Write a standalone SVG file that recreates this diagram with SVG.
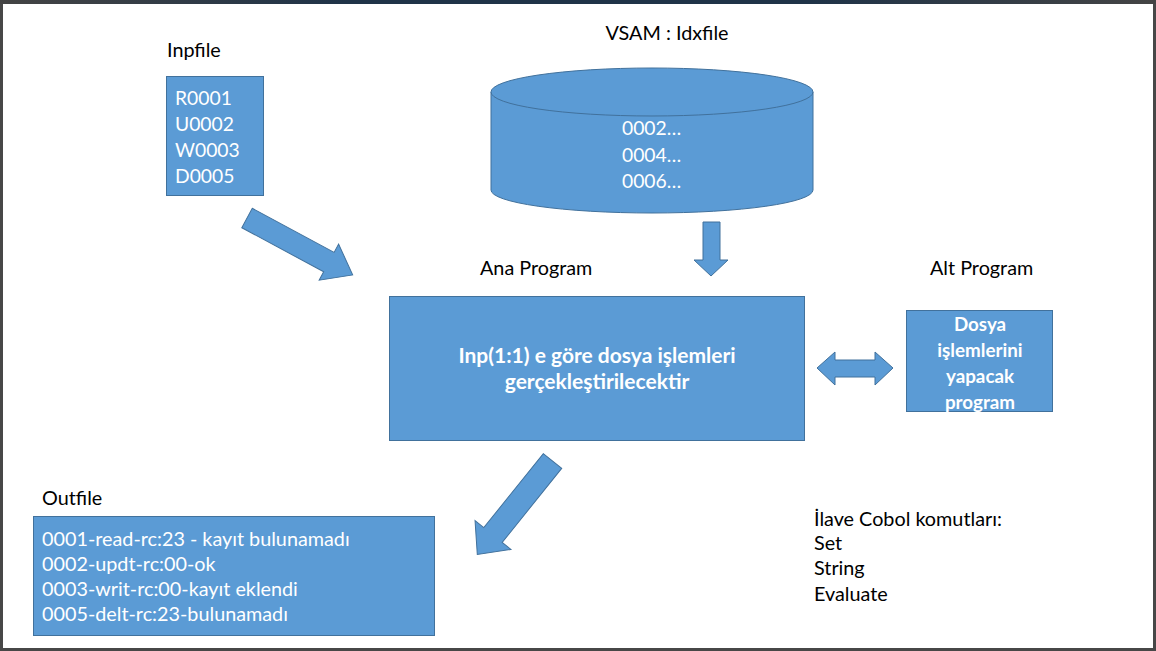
<svg xmlns="http://www.w3.org/2000/svg" width="1156" height="651" viewBox="0 0 1156 651">
<style>
.lbl{font-family:Lato,"Open Sans","Liberation Sans",sans-serif;font-size:19.8px;fill:#000}
.wt{font-family:Lato,"Open Sans","Liberation Sans",sans-serif;font-size:19.3px;fill:#fff}
.out{font-size:19.8px}
.b{font-weight:bold}
.main{font-size:21px}
.alt{font-size:18.8px}
.shape{fill:#5B9BD5;stroke:#41719C;stroke-width:1}
</style>
<defs>
<linearGradient id="topbar" x1="0" x2="1" y1="0" y2="0">
<stop offset="0" stop-color="#444"/><stop offset="0.3" stop-color="#1f3348"/><stop offset="0.7" stop-color="#1f3348"/><stop offset="1" stop-color="#444"/>
</linearGradient>
</defs>
<rect x="0" y="0" width="1156" height="651" fill="#474747"/>
<rect x="0" y="0" width="1156" height="4" fill="url(#topbar)"/>
<rect x="3" y="4" width="1150" height="644" fill="#fff"/>

<g id="inpfile">
<text class="lbl" x="167" y="57">Inpfile</text>
<rect class="shape" x="166.5" y="76.5" width="97" height="119"/>
<text class="wt" x="175" y="105">R0001</text>
<text class="wt" x="175" y="131">U0002</text>
<text class="wt" x="175" y="157">W0003</text>
<text class="wt" x="175" y="183">D0005</text>
</g>

<g id="vsam">
<text class="lbl" x="667" y="40" text-anchor="middle">VSAM : Idxfile</text>
<path class="shape" d="M491,92 L491,190 A161,23 0 0 0 813,190 L813,92"/>
<ellipse class="shape" cx="652" cy="92" rx="161" ry="24"/>
<text class="wt" x="622" y="135">0002…</text>
<text class="wt" x="622" y="162">0004…</text>
<text class="wt" x="622" y="188">0006…</text>
</g>

<g id="ana">
<text class="lbl" x="480" y="275">Ana Program</text>
<rect class="shape" x="389.5" y="296.5" width="415" height="144"/>
<text class="wt b main" x="597" y="363" text-anchor="middle">Inp(1:1) e göre dosya işlemleri</text>
<text class="wt b main" x="597" y="389" text-anchor="middle">gerçekleştirilecektir</text>
</g>

<g id="alt">
<text class="lbl" x="930" y="275">Alt Program</text>
<rect class="shape" x="906.5" y="310.5" width="146" height="101"/>
<text class="wt b alt" x="980" y="331" text-anchor="middle">Dosya</text>
<text class="wt b alt" x="980" y="357" text-anchor="middle">işlemlerini</text>
<text class="wt b alt" x="980" y="383" text-anchor="middle">yapacak</text>
<text class="wt b alt" x="980" y="409" text-anchor="middle">program</text>
</g>

<g id="outfile">
<text class="lbl" x="42" y="505">Outfile</text>
<rect class="shape" x="33.5" y="516.5" width="401" height="119"/>
<text class="wt out" x="42" y="546">0001-read-rc:23 - kayıt bulunamadı</text>
<text class="wt out" x="42" y="571">0002-updt-rc:00-ok</text>
<text class="wt out" x="42" y="596">0003-writ-rc:00-kayıt eklendi</text>
<text class="wt out" x="42" y="621">0005-delt-rc:23-bulunamadı</text>
</g>

<g id="notes">
<text class="lbl" x="814" y="526">İlave Cobol komutları:</text>
<text class="lbl" x="814" y="550">Set</text>
<text class="lbl" x="814" y="575">String</text>
<text class="lbl" x="814" y="601">Evaluate</text>
</g>

<g id="connectors">
<polygon class="shape" transform="translate(247,218) rotate(28.3)" points="0,-11 93,-11 93,-20.5 120,0 93,20.5 93,11 0,11"/>
<polygon class="shape" points="703,222 720,222 720,260 728,260 711,276 694,260 703,260"/>
<polygon class="shape" points="817,368 835,352 835,360 875,360 875,352 893,368 875,385 875,377 835,377 835,385"/>
<polygon class="shape" transform="translate(552.5,461) rotate(128.8)" points="0,-11.8 95,-11.8 95,-23 120,0 95,23 95,11.8 0,11.8"/>
</g>
</svg>
